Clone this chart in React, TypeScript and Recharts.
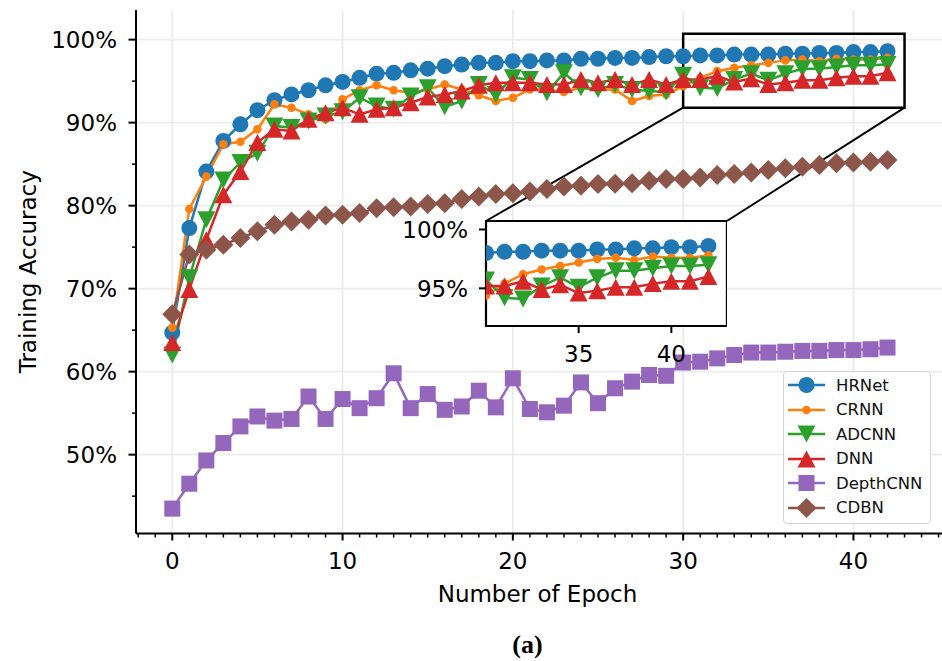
import {
  LineChart,
  Line,
  XAxis,
  YAxis,
  CartesianGrid,
  Legend,
  Label,
  ReferenceArea,
  ReferenceLine,
} from "recharts";

const epochs = [
  0, 1, 2, 3, 4, 5, 6, 7, 8, 9, 10, 11, 12, 13, 14, 15, 16, 17, 18, 19, 20, 21,
  22, 23, 24, 25, 26, 27, 28, 29, 30, 31, 32, 33, 34, 35, 36, 37, 38, 39, 40, 41,
  42,
];

const hrnet = [
  64.7, 77.3, 84.1, 87.8, 89.8, 91.5, 92.7, 93.4, 93.9, 94.5, 94.9, 95.4, 95.9,
  96.0, 96.3, 96.5, 96.8, 97.0, 97.2, 97.2, 97.4, 97.4, 97.5, 97.5, 97.7, 97.7,
  97.8, 97.8, 97.9, 98.0, 98.0, 98.1, 98.1, 98.2, 98.2, 98.2, 98.3, 98.3, 98.4,
  98.4, 98.5, 98.5, 98.6,
];

const crnn = [
  65.3, 79.6, 83.5, 87.4, 87.7, 89.2, 92.2, 91.8, 91.0, 90.4, 92.8, 93.9, 94.5,
  93.9, 93.6, 94.0, 94.6, 94.0, 93.3, 92.6, 93.0, 94.0, 94.0, 93.7, 94.2, 94.0,
  94.0, 92.6, 93.2, 93.4, 94.4, 95.4, 96.2, 96.6, 96.9, 97.2, 97.5, 97.6, 97.4,
  97.7, 97.6, 97.6, 97.8,
];

const adcnn = [
  62.0, 71.3, 78.3, 83.1, 85.2, 86.3, 89.6, 89.4, 90.2, 90.8, 91.3, 93.0, 92.0,
  91.6, 93.2, 94.2, 91.9, 92.6, 94.6, 93.4, 95.4, 95.2, 93.6, 96.0, 94.2, 94.0,
  94.6, 94.0, 93.8, 93.7, 95.7, 94.2, 94.1, 95.2, 95.9, 95.1, 95.9, 96.5, 96.5,
  96.7, 96.9, 96.9, 97.0,
];

const dnn = [
  63.5, 69.9, 75.9, 81.3, 84.1, 87.6, 89.2, 89.0, 90.4, 91.2, 91.8, 91.0, 91.6,
  91.8, 92.4, 93.1, 93.4, 93.8, 94.5, 94.8, 94.8, 94.8, 94.6, 94.6, 95.2, 94.8,
  95.2, 94.6, 95.2, 94.6, 95.2, 95.2, 95.6, 94.9, 95.3, 94.6, 94.8, 95.1, 95.1,
  95.4, 95.6, 95.6, 96.0,
];

const depthcnn = [
  43.5, 46.5, 49.3, 51.4, 53.4, 54.6, 54.1, 54.3, 57.0, 54.3, 56.7, 55.6, 56.8,
  59.8, 55.6, 57.3, 55.4, 55.8, 57.7, 55.7, 59.2, 55.5, 55.1, 55.9, 58.7, 56.2,
  58.0, 58.8, 59.6, 59.5, 61.1, 61.2, 61.6, 62.0, 62.3, 62.3, 62.4, 62.5, 62.5,
  62.6, 62.6, 62.7, 62.9,
];

const cdbn = [
  66.9, 74.1, 74.7, 75.3, 76.1, 76.9, 77.7, 78.1, 78.3, 78.8, 78.9, 79.1, 79.7,
  79.8, 79.9, 80.2, 80.3, 80.8, 81.1, 81.4, 81.5, 81.7, 82.0, 82.3, 82.4, 82.6,
  82.65, 82.7, 83.0, 83.2, 83.2, 83.4, 83.7, 83.8, 84.0, 84.3, 84.5, 84.7, 84.9,
  85.1, 85.2, 85.3, 85.5,
];

const xTicks = Array.from({ length: 48 }, (_, i) => i - 2);
const yTicks = [45, 50, 55, 60, 65, 70, 75, 80, 85, 90, 95, 100];
const insetXTicks = [35, 40];
const insetYTicks = [95, 100];

const series = [
  { key: "HRNet", color: "#1f77b4", shape: "circle", values: hrnet },
  { key: "CRNN", color: "#ff7f0e", shape: "dot", values: crnn },
  { key: "ADCNN", color: "#2ca02c", shape: "triDown", values: adcnn },
  { key: "DNN", color: "#d62728", shape: "triUp", values: dnn },
  { key: "DepthCNN", color: "#9467bd", shape: "square", values: depthcnn },
  { key: "CDBN", color: "#8c564b", shape: "diamond", values: cdbn },
];

const data = epochs.map((epoch, i) => {
  const row: Record<string, number> = { epoch };
  series.forEach((s) => (row[s.key] = s.values[i]));
  return row;
});

const FONT = "'DejaVu Sans', sans-serif";
const W = 942;
const H = 661;
const X_DOMAIN: [number, number] = [-2.13, 45.2];
const Y_DOMAIN: [number, number] = [40.5, 103.57];
const PLOT = { left: 136, top: 10, width: 806, height: 523.5 };
const X_AXIS_H = 70;

// zoomed region and where the inset sits (main-axis data units)
const ZOOM_X: [number, number] = [30, 43];
const ZOOM_Y: [number, number] = [91.8, 100.72];
const INSET = { x1: 18.42, x2: 32.57, y1: 65.5, y2: 78.15 };
const INSET_PAD = 14;

const px = (x: number) =>
  PLOT.left + ((x - X_DOMAIN[0]) / (X_DOMAIN[1] - X_DOMAIN[0])) * PLOT.width;
const py = (y: number) =>
  PLOT.top + ((Y_DOMAIN[1] - y) / (Y_DOMAIN[1] - Y_DOMAIN[0])) * PLOT.height;

function Marker({ shape, cx, cy, color }: any) {
  switch (shape) {
    case "circle":
      return <circle cx={cx} cy={cy} r={8} fill={color} />;
    case "dot":
      return <circle cx={cx} cy={cy} r={4.3} fill={color} />;
    case "triDown":
      return (
        <polygon
          points={`${cx - 9},${cy - 8.5} ${cx + 9},${cy - 8.5} ${cx},${cy + 8.5}`}
          fill={color}
        />
      );
    case "triUp":
      return (
        <polygon
          points={`${cx},${cy - 8.5} ${cx + 9},${cy + 8.5} ${cx - 9},${cy + 8.5}`}
          fill={color}
        />
      );
    case "square":
      return <rect x={cx - 8} y={cy - 8} width={16} height={16} fill={color} />;
    default:
      return (
        <polygon
          points={`${cx},${cy - 10} ${cx + 10},${cy} ${cx},${cy + 10} ${cx - 10},${cy}`}
          fill={color}
        />
      );
  }
}

function XTick({ x, y, payload }: any) {
  const major = payload.value % 10 === 0;
  return (
    <g>
      <line x1={x} x2={x} y1={y} y2={y + (major ? 7 : 4)} stroke="#000" strokeWidth={major ? 2 : 1.5} />
      {major && (
        <text x={x} y={y + 35} textAnchor="middle" fontSize={23} fontFamily={FONT} fill="#000">
          {payload.value}
        </text>
      )}
    </g>
  );
}

function YTick({ x, y, payload }: any) {
  const major = payload.value % 10 === 0;
  return (
    <g>
      <line x1={x - (major ? 7.5 : 4)} x2={x} y1={y} y2={y} stroke="#000" strokeWidth={major ? 2 : 1.5} />
      {major && (
        <text x={x - 19} y={y} dy="0.36em" textAnchor="end" fontSize={23} fontFamily={FONT} fill="#000">
          {payload.value}%
        </text>
      )}
    </g>
  );
}

function InsetXTick({ x, y, payload }: any) {
  return (
    <g>
      <line x1={x} x2={x} y1={y} y2={y + 7} stroke="#000" strokeWidth={2} />
      <text x={x} y={y + 36} textAnchor="middle" fontSize={23} fontFamily={FONT} fill="#000">
        {payload.value}
      </text>
    </g>
  );
}

function InsetYTick({ x, y, payload }: any) {
  return (
    <g>
      <line x1={x - 7} x2={x} y1={y} y2={y} stroke="#000" strokeWidth={2} />
      <text x={x - 18} y={y} dy="0.36em" textAnchor="end" fontSize={23} fontFamily={FONT} fill="#000">
        {payload.value}%
      </text>
    </g>
  );
}

function renderLegend() {
  return (
    <div
      style={{
        background: "rgba(255,255,255,0.85)",
        border: "1.5px solid #d4d4d4",
        borderRadius: 4,
        padding: "1px 0 3px 0",
        width: 148,
        boxSizing: "border-box",
        fontFamily: FONT,
      }}
    >
      {series.map((s) => (
        <div key={s.key} style={{ display: "flex", alignItems: "center", height: 24.5 }}>
          <svg width={48} height={24} style={{ display: "block" }}>
            <line x1={4} x2={41} y1={12} y2={12} stroke={s.color} strokeWidth={2.5} />
            <Marker shape={s.shape} cx={22.5} cy={12} color={s.color} />
          </svg>
          <span style={{ fontSize: 16.5, marginLeft: 4, color: "#111" }}>{s.key}</span>
        </div>
      ))}
    </div>
  );
}

function seriesLines(list: typeof series) {
  return list.map((s) => (
    <Line
      key={s.key}
      type="linear"
      dataKey={s.key}
      stroke={s.color}
      strokeWidth={2.5}
      isAnimationActive={false}
      activeDot={false}
      dot={(p: any) => (
        <Marker key={`${s.key}-${p.index}`} shape={s.shape} cx={p.cx} cy={p.cy} color={s.color} />
      )}
    />
  ));
}

export default function App() {
  const insetLeft = px(INSET.x1);
  const insetRight = px(INSET.x2);
  const insetTop = py(INSET.y2);
  const insetBottom = py(INSET.y1);
  const insetW = insetRight - insetLeft;
  const insetH = insetBottom - insetTop;

  return (
    <div style={{ position: "absolute", left: 0, top: 0, width: W, height: H, background: "#fff" }}>
      <div style={{ position: "absolute", left: 0, top: 0 }}>
        <LineChart
          width={W}
          height={H}
          data={data}
          margin={{ top: PLOT.top, right: 0, left: 0, bottom: H - PLOT.top - PLOT.height - X_AXIS_H }}
        >
          <CartesianGrid
            stroke="#ebebeb"
            strokeWidth={1.8}
            horizontalValues={[50, 60, 70, 80, 90, 100]}
            verticalValues={[0, 10, 20, 30, 40]}
          />
          <XAxis
            type="number"
            dataKey="epoch"
            domain={X_DOMAIN}
            allowDataOverflow
            ticks={xTicks}
            interval={0}
            tickSize={0}
            tickMargin={0}
            tickLine={false}
            tick={(p: any) => <XTick {...p} />}
            height={X_AXIS_H}
            axisLine={{ stroke: "#000", strokeWidth: 2 }}
          >
            <Label
              content={(p: any) => {
                const vb = p.viewBox;
                return (
                  <text x={vb.x + vb.width / 2 - 1.5} y={vb.y + 68.5} textAnchor="middle" fontSize={23} fontFamily={FONT} fill="#000">
                    Number of Epoch
                  </text>
                );
              }}
            />
          </XAxis>
          <YAxis
            type="number"
            domain={Y_DOMAIN}
            allowDataOverflow
            ticks={yTicks}
            interval={0}
            tickSize={0}
            tickMargin={0}
            tickLine={false}
            tick={(p: any) => <YTick {...p} />}
            width={PLOT.left}
            axisLine={{ stroke: "#000", strokeWidth: 2 }}
          >
            <Label
              content={(p: any) => {
                const vb = p.viewBox;
                const cy = vb.y + vb.height / 2;
                return (
                  <text
                    x={28}
                    y={cy}
                    transform={`rotate(-90, 28, ${cy})`}
                    textAnchor="middle"
                    dominantBaseline="central"
                    fontSize={23}
                    fontFamily={FONT}
                    fill="#000"
                  >
                    Training Accuracy
                  </text>
                );
              }}
            />
          </YAxis>
          {seriesLines(series)}
          <ReferenceArea
            x1={ZOOM_X[0]}
            x2={ZOOM_X[1]}
            y1={ZOOM_Y[0]}
            y2={ZOOM_Y[1]}
            fill="none"
            fillOpacity={0}
            stroke="#000"
            strokeWidth={2.5}
            ifOverflow="visible"
          />
          <ReferenceLine
            segment={[
              { x: ZOOM_X[0], y: ZOOM_Y[0] },
              { x: INSET.x1, y: INSET.y2 },
            ]}
            stroke="#000"
            strokeWidth={2}
            ifOverflow="visible"
          />
          <ReferenceLine
            segment={[
              { x: ZOOM_X[1], y: ZOOM_Y[0] },
              { x: INSET.x2, y: INSET.y2 },
            ]}
            stroke="#000"
            strokeWidth={2}
            ifOverflow="visible"
          />
          <Legend
            layout="vertical"
            align="center"
            verticalAlign="middle"
            content={renderLegend}
            wrapperStyle={{ position: "absolute", left: 783, top: 371, width: 148, height: 154 }}
          />
        </LineChart>
      </div>

      <div
        style={{
          position: "absolute",
          left: insetLeft,
          top: insetTop,
          width: insetW,
          height: insetH,
          background: "#fff",
        }}
      />
      <div style={{ position: "absolute", left: insetLeft - 100, top: insetTop - INSET_PAD }}>
        <LineChart
          width={insetW + 100}
          height={insetH + 45 + INSET_PAD}
          data={data}
          margin={{ top: INSET_PAD, right: 0, left: 0, bottom: 0 }}
        >
          <XAxis
            type="number"
            dataKey="epoch"
            domain={ZOOM_X}
            allowDataOverflow
            ticks={insetXTicks}
            interval={0}
            tickSize={0}
            tickMargin={0}
            tickLine={false}
            axisLine={false}
            tick={(p: any) => <InsetXTick {...p} />}
            height={45}
          />
          <YAxis
            type="number"
            domain={ZOOM_Y}
            allowDataOverflow
            ticks={insetYTicks}
            interval={0}
            tickSize={0}
            tickMargin={0}
            tickLine={false}
            axisLine={false}
            tick={(p: any) => <InsetYTick {...p} />}
            width={100}
          />
          {seriesLines(series.slice(0, 4))}
          <ReferenceArea
            x1={ZOOM_X[0]}
            x2={ZOOM_X[1]}
            y1={ZOOM_Y[0]}
            y2={ZOOM_Y[1]}
            fill="none"
            fillOpacity={0}
            stroke="#000"
            strokeWidth={2.2}
            ifOverflow="visible"
          />
        </LineChart>
      </div>

      <svg width={W} height={H} style={{ position: "absolute", left: 0, top: 0, pointerEvents: "none" }}>
        <text x={527.5} y={653} textAnchor="middle" fontSize={26} fontWeight="bold" fontFamily="'Liberation Serif', serif" fill="#000">
          (a)
        </text>
      </svg>
    </div>
  );
}
